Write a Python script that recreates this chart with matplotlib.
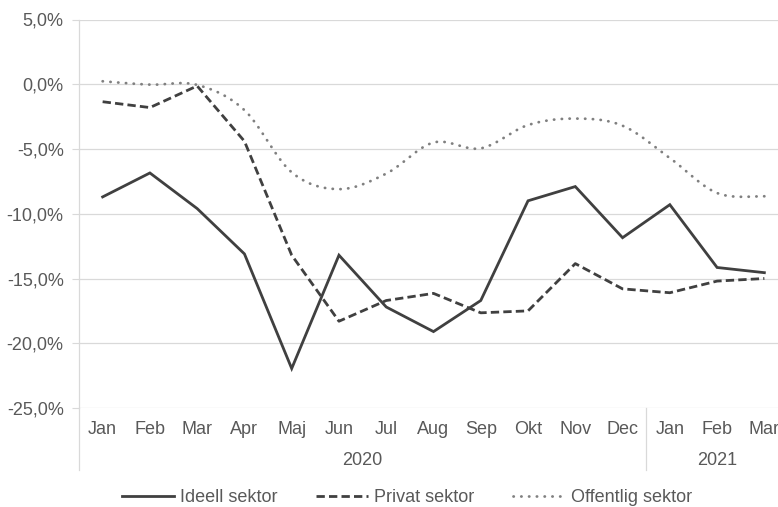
import numpy as np
import matplotlib
matplotlib.use("Agg")
import matplotlib.pyplot as plt
from matplotlib.lines import Line2D

months = ["Jan", "Feb", "Mar", "Apr", "Maj", "Jun", "Jul", "Aug", "Sep", "Okt", "Nov", "Dec", "Jan", "Feb", "Mar"]
years = ["2020", "2021"]
year_counts = [12, 3]

ideell = [-8.7, -6.85, -9.6, -13.1, -21.95, -13.2, -17.2, -19.1, -16.7, -9.0, -7.9, -11.85, -9.3, -14.15, -14.55]
privat = [-1.35, -1.8, -0.13, -4.4, -13.2, -18.3, -16.7, -16.15, -17.65, -17.5, -13.85, -15.8, -16.1, -15.2, -15.0]
offentlig = [0.23, -0.03, -0.05, -2.0, -6.8, -8.1, -6.9, -4.5, -4.95, -3.15, -2.65, -3.2, -5.7, -8.4, -8.65]

yticks = [5, 0, -5, -10, -15, -20, -25]

plt.rcParams['font.family'] = ['Liberation Sans', 'DejaVu Sans']
TXT = '#595959'
GRID = '#d9d9d9'
DARK = '#404040'
GREY = '#808080'
FS = 13

W, H = 778, 507
fig = plt.figure(figsize=(W/100, H/100), dpi=100)
left = 79 / W
right = 788 / W
top = 1 - 19.5 / H
bottom = 1 - 408 / H
ax = fig.add_axes([left, bottom, right - left, top - bottom])

x = np.arange(len(months))


def smooth(xs, ys, n=20):
    xs = np.asarray(xs, float)
    ys = np.asarray(ys, float)
    px = np.concatenate([[xs[0]], xs, [xs[-1]]])
    py = np.concatenate([[ys[0]], ys, [ys[-1]]])
    ox, oy = [], []
    t = np.linspace(0, 1, n, endpoint=False)
    for i in range(1, len(px) - 2):
        p0 = np.array([px[i - 1], py[i - 1]])
        p1 = np.array([px[i], py[i]])
        p2 = np.array([px[i + 1], py[i + 1]])
        p3 = np.array([px[i + 2], py[i + 2]])
        c1 = p1 + (p2 - p0) / 6
        c2 = p2 - (p3 - p1) / 6
        for tt in t:
            b = ((1 - tt) ** 3) * p1 + 3 * ((1 - tt) ** 2) * tt * c1 + 3 * (1 - tt) * tt ** 2 * c2 + tt ** 3 * p2
            ox.append(b[0]); oy.append(b[1])
    ox.append(xs[-1]); oy.append(ys[-1])
    return np.array(ox), np.array(oy)


ax.plot(x, ideell, color=DARK, lw=2, solid_joinstyle='miter', label='Ideell sektor', zorder=3)
ax.plot(x, privat, color=DARK, lw=2, linestyle=(0, (3, 1.5)), dash_capstyle='butt', label='Privat sektor', zorder=3)
sx, sy = smooth(x, offentlig)
ax.plot(sx, sy, color=GREY, lw=2, linestyle=(0, (0.1, 2.7)), dash_capstyle='round', label='Offentlig sektor', zorder=3)

ax.set_xlim(-0.5, len(months) - 0.5)
ax.set_ylim(-25, 5)
ax.set_yticks(yticks)
ax.set_yticklabels([f"{v:.1f}%".replace('.', ',') for v in yticks], color=TXT, fontsize=FS)
ax.tick_params(axis='y', length=5, width=0.8, color=GRID, pad=6)
ax.set_xticks([])
for yv in yticks:
    ax.axhline(yv, color=GRID, lw=0.9, zorder=1)
for s in ['top', 'right', 'bottom']:
    ax.spines[s].set_visible(False)
ax.spines['left'].set_color(GRID)
ax.spines['left'].set_linewidth(0.9)

# multi-level category axis
trans = ax.get_xaxis_transform()
for i, m in enumerate(months):
    ax.text(i, -0.055, m, transform=trans, ha='center', va='center', color=TXT, fontsize=FS)
start = 0
ext = -62 / (408 - 19.5)
ax.plot([-0.5, -0.5], [0, ext], transform=trans, color=GRID, lw=0.9, clip_on=False)
for yr, cnt in zip(years, year_counts):
    mid = start + (cnt - 1) / 2
    ax.text(mid, -0.135, yr, transform=trans, ha='center', va='center', color=TXT, fontsize=FS)
    end = start + cnt - 0.5
    if end < len(months) - 0.5:
        ax.plot([end, end], [0, ext], transform=trans, color=GRID, lw=0.9, clip_on=False)
    start += cnt

handles = [Line2D([], [], color=DARK, lw=2),
           Line2D([], [], color=DARK, lw=2, linestyle=(0, (3, 1.5)), dash_capstyle='butt'),
           Line2D([], [], color=GREY, lw=2, linestyle=(0, (0.1, 2.7)), dash_capstyle='round')]
fig.legend(handles, ['Ideell sektor', 'Privat sektor', 'Offentlig sektor'],
           loc='center', bbox_to_anchor=(407 / W, 1 - 498 / H), ncol=3, frameon=False,
           fontsize=FS, labelcolor=TXT, handlelength=2.9, handletextpad=0.35, columnspacing=2.1)

fig.savefig('out.png', dpi=100)
